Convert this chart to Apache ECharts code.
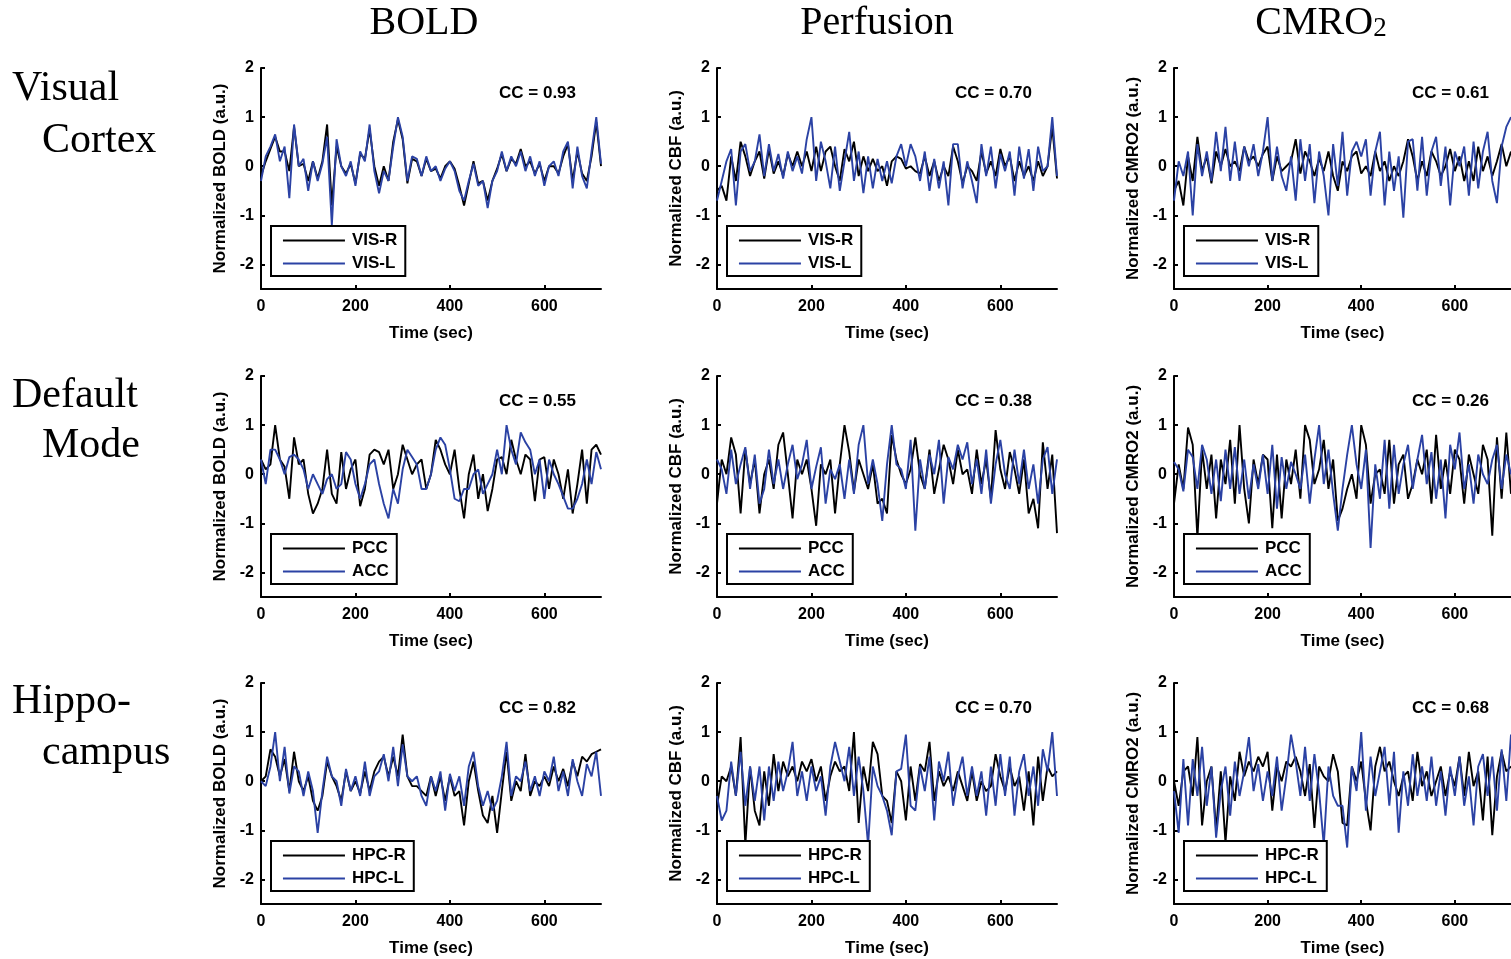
<!DOCTYPE html>
<html>
<head>
<meta charset="utf-8">
<script src="https://cdn.jsdelivr.net/npm/echarts@6/dist/echarts.min.js"></script>
<style>
  html, body { margin: 0; padding: 0; background: #fff; }
  #chart { width: 1511px; height: 959px; }
</style>
</head>
<body>
<div id="chart"></div>
<script>
// ---- labels ----
const columnTitles = ['BOLD', 'Perfusion', 'CMRO2'];
const rowTitles = [['Visual', 'Cortex'], ['Default', 'Mode'], ['Hippo-', 'campus']];
const yAxisNames = ['Normalized BOLD (a.u.)', 'Normalized CBF (a.u.)', 'Normalized CMRO2 (a.u.)'];
const regionPairs = [['VIS-R', 'VIS-L'], ['PCC', 'ACC'], ['HPC-R', 'HPC-L']];
const ccValues = [['0.93', '0.70', '0.61'], ['0.55', '0.38', '0.26'], ['0.82', '0.70', '0.68']];
const yTicks = [-2, -1, 0, 1, 2];
const xTicks = [0, 200, 400, 600];
const sampleStep = 10; // seconds between samples

// ---- time courses (normalized, a.u.), one value every 10 s from 0 to 720 s ----
// Visual cortex
const visBoldR = [-0.2,0.1,0.35,0.6,0.3,0.3,-0.1,0.8,0.0,0.05,-0.3,0.1,-0.25,0.1,0.85,-0.8,0.4,0.0,-0.15,0.05,-0.35,0.25,0.15,0.75,0.0,-0.4,0.0,-0.3,0.5,0.95,0.55,-0.35,0.15,0.1,-0.2,0.15,-0.1,-0.05,-0.25,0.0,0.1,-0.05,-0.4,-0.8,-0.35,0.1,-0.35,-0.3,-0.7,-0.3,-0.05,0.25,-0.1,0.15,0.05,0.35,0.0,0.1,-0.15,0.05,-0.3,0.0,0.0,-0.15,0.2,0.45,-0.3,0.3,-0.15,-0.3,0.2,0.9,0.0];
const visBoldL = [-0.3,0.2,0.4,0.65,0.1,0.4,-0.65,0.85,0.0,0.15,-0.5,0.1,-0.3,0.05,0.6,-1.2,0.55,0.0,-0.2,0.1,-0.4,0.3,0.1,0.85,-0.1,-0.55,-0.1,-0.3,0.4,1.0,0.6,-0.3,0.2,0.15,-0.2,0.2,-0.1,0.0,-0.3,-0.05,0.1,-0.1,-0.5,-0.7,-0.3,0.05,-0.4,-0.3,-0.85,-0.3,-0.1,0.3,-0.1,0.2,0.0,0.3,-0.1,0.2,-0.2,0.1,-0.4,0.0,0.1,-0.2,0.3,0.5,-0.45,0.4,-0.2,-0.45,0.3,1.0,0.05];
const visCbfR = [-0.5,-0.4,-0.7,0.2,-0.3,0.5,0.2,-0.2,0.1,0.3,-0.25,0.35,-0.15,0.1,-0.2,0.25,0.0,0.3,0.0,0.3,-0.1,0.4,-0.1,0.3,0.4,0.0,-0.3,0.35,0.1,0.5,-0.2,0.2,-0.1,0.15,-0.1,0.0,-0.4,0.1,0.2,0.15,-0.05,0.0,-0.1,-0.15,0.2,-0.2,0.1,-0.3,0.0,-0.2,0.4,0.1,-0.35,0.0,-0.1,-0.3,0.3,-0.15,0.1,-0.2,0.35,0.0,0.2,-0.3,0.1,-0.2,0.0,-0.3,0.1,-0.2,0.0,0.8,-0.25];
const visCbfL = [-0.7,-0.3,0.1,0.35,-0.8,0.3,0.45,-0.1,0.1,0.65,-0.2,0.45,-0.1,0.25,-0.25,0.3,-0.1,0.2,-0.15,0.55,1.0,-0.3,0.5,0.1,-0.45,0.4,-0.5,0.1,0.7,-0.3,0.3,-0.55,0.2,-0.45,0.15,-0.3,0.1,-0.35,0.2,0.45,0.0,0.45,0.2,-0.3,0.3,-0.5,0.15,-0.45,0.1,-0.8,0.45,0.45,-0.45,0.1,-0.3,-0.75,0.45,-0.2,0.4,-0.45,0.25,-0.1,0.3,-0.6,0.4,-0.25,0.35,-0.5,0.4,-0.1,0.0,1.0,-0.2];
const visCmroR = [-0.5,-0.3,-0.8,0.2,-0.3,0.6,-0.1,0.2,-0.35,0.3,0.0,0.35,0.0,0.1,-0.1,0.4,0.1,0.2,0.0,0.25,0.4,-0.3,0.2,-0.1,0.0,0.1,0.55,-0.15,0.3,0.1,-0.2,0.15,-0.1,0.3,-0.2,-0.5,0.1,-0.1,0.2,0.3,-0.15,0.0,-0.2,0.3,-0.1,0.1,-0.3,0.0,-0.2,0.1,0.55,0.2,-0.3,0.1,-0.2,0.3,0.1,-0.2,0.0,0.35,-0.1,0.2,-0.3,0.1,-0.3,0.4,-0.1,0.2,-0.2,0.1,0.45,0.0,0.3];
const visCmroL = [-0.7,0.1,-0.2,0.3,-1.0,0.45,-0.2,0.3,-0.3,0.7,-0.1,0.8,-0.3,0.5,-0.3,0.4,0.0,0.45,-0.2,0.3,1.0,-0.3,0.4,-0.2,-0.5,0.2,-0.7,0.55,-0.3,0.45,-0.75,0.3,-0.2,-1.0,0.45,-0.4,0.7,-0.6,0.3,0.5,0.2,0.55,-0.6,0.3,0.7,-0.8,0.3,-0.5,0.2,-1.05,0.5,0.55,-0.5,0.6,-0.6,0.3,0.6,-0.4,0.4,-0.8,0.3,0.0,0.4,-0.6,0.5,-0.45,0.3,0.7,-0.3,-0.75,0.4,0.8,1.0];
// Default mode network
const dmnBoldR = [0.3,0.1,0.2,1.0,0.3,0.15,-0.5,0.75,0.2,0.3,-0.4,-0.8,-0.6,-0.3,0.5,-0.4,-0.6,0.45,-0.3,0.1,0.3,-0.65,-0.3,0.4,0.5,0.45,0.2,0.5,-0.3,0.0,0.6,0.3,0.0,0.2,0.3,-0.3,0.0,0.7,0.5,0.2,0.0,0.5,-0.3,-0.9,0.0,0.4,-0.5,0.0,-0.75,-0.3,0.3,0.35,0.0,0.7,0.3,0.0,0.4,0.3,-0.55,0.3,0.35,-0.3,0.3,0.0,-0.5,0.1,-0.8,-0.2,0.5,-0.6,0.5,0.6,0.4];
const dmnBoldL = [0.3,-0.2,0.5,0.5,0.3,0.0,0.35,0.4,0.3,0.1,-0.3,0.0,-0.2,-0.4,-0.1,0.0,-0.3,-0.2,0.45,0.3,-0.2,-0.5,-0.2,0.2,0.3,-0.2,-0.6,-0.9,-0.3,-0.6,0.1,0.5,0.35,0.2,-0.3,-0.3,0.0,0.5,0.75,0.6,0.1,-0.5,-0.55,-0.3,-0.3,0.0,0.1,-0.4,-0.2,0.0,0.5,0.0,1.0,0.5,0.2,0.85,0.65,0.5,0.0,0.3,-0.5,0.3,0.0,-0.2,-0.45,-0.7,-0.7,-0.5,-0.2,0.3,-0.2,0.45,0.1];
const dmnCbfR = [-0.6,0.3,0.0,0.75,0.4,-0.8,0.5,-0.2,0.3,-0.8,0.0,0.3,-0.3,0.6,0.85,0.0,-0.9,0.3,0.0,0.3,-0.3,-1.05,0.2,0.0,0.3,-0.8,0.2,1.0,0.45,-0.35,0.3,0.0,-0.3,0.2,-0.6,-0.5,-0.8,0.8,0.3,0.0,-0.2,0.1,0.75,0.0,-0.3,0.5,-0.4,0.1,0.6,0.3,-0.2,0.5,0.0,0.1,-0.4,0.5,-0.2,0.3,-0.5,0.9,0.1,-0.3,0.45,0.1,-0.4,0.3,-0.8,-0.5,-1.1,0.65,-0.3,0.4,-1.2];
const dmnCbfL = [0.3,0.1,-0.4,0.5,-0.2,0.2,0.55,-0.3,0.4,-0.6,-0.3,0.5,-0.2,0.3,-0.3,0.2,0.6,-0.1,0.2,0.7,-0.3,0.15,0.55,-0.6,0.1,-0.1,0.2,-0.5,0.3,-0.4,0.6,1.0,-0.2,0.3,-0.2,-0.95,0.2,1.0,0.2,0.1,-0.3,0.7,-1.15,0.3,-0.3,0.4,0.0,0.7,-0.6,0.35,0.1,0.6,0.3,0.65,-0.2,0.3,-0.4,0.5,-0.6,0.2,0.7,0.0,-0.3,0.5,-0.2,0.5,-0.3,0.2,-0.6,0.3,0.55,-0.4,0.3];
const dmnCmroR = [-0.6,0.2,-0.3,0.95,0.6,-1.3,0.5,-0.3,0.4,-0.9,0.3,-0.2,0.7,-0.6,1.0,-0.3,-1.0,0.3,-0.2,0.4,0.3,-1.1,0.4,-0.9,0.3,-0.2,0.5,-0.5,1.0,0.7,-0.2,0.1,0.7,-0.3,0.3,-0.95,-0.7,-0.3,0.0,-0.5,1.0,0.6,-0.6,0.0,0.1,-0.4,0.7,-0.6,0.2,0.4,-0.5,-0.2,0.3,0.0,0.5,-0.6,0.8,-0.3,0.3,-0.4,0.5,0.3,-0.6,0.4,0.0,-0.4,0.6,0.3,-1.25,0.75,-0.5,0.85,-0.4];
const dmnCmroL = [0.25,0.1,-0.35,0.5,0.35,-0.3,0.6,0.3,-0.4,0.3,-0.55,0.5,-0.3,0.55,-0.4,0.3,-0.5,0.2,-0.3,0.4,-0.4,0.6,-0.7,0.35,-0.3,0.25,0.0,-0.3,0.4,-0.6,0.3,1.0,-0.2,0.5,-0.4,-1.15,-0.3,0.4,1.0,0.2,-0.3,0.5,-1.5,0.2,-0.5,0.7,-0.7,0.6,-0.4,0.2,0.6,-0.3,0.3,0.8,-0.2,0.45,-0.5,0.3,-0.9,0.6,0.1,0.85,-0.3,0.2,-0.6,0.4,0.0,-0.2,0.3,0.6,-0.3,0.4,0.0];
// Hippocampus
const hpcBoldR = [0.0,0.1,0.65,0.5,0.1,0.45,-0.2,0.6,0.0,-0.2,0.1,-0.4,-0.6,-0.3,0.4,0.1,-0.1,-0.4,0.2,-0.2,0.0,-0.25,0.2,-0.2,0.2,0.4,0.5,0.1,0.5,0.1,0.95,0.1,-0.1,-0.1,-0.2,-0.3,0.1,-0.3,0.1,-0.4,0.1,-0.3,-0.2,-0.9,0.0,0.4,-0.2,-0.7,-0.85,-0.3,-1.05,-0.2,0.6,-0.4,0.0,-0.2,0.55,-0.3,0.0,-0.1,0.1,-0.1,0.3,0.0,0.25,-0.1,0.4,0.1,0.5,0.4,0.55,0.6,0.65];
const hpcBoldL = [0.0,-0.1,0.3,1.0,0.0,0.7,-0.25,0.3,0.2,-0.3,0.2,-0.2,-1.05,-0.2,0.5,0.1,0.0,-0.5,0.25,-0.2,0.1,-0.3,0.4,-0.3,0.1,0.2,0.55,0.0,0.7,-0.1,0.75,0.1,0.0,0.1,-0.3,-0.5,0.1,-0.2,0.2,-0.6,0.15,-0.2,0.1,-0.5,0.3,0.6,-0.1,-0.5,-0.2,-0.6,-0.4,0.1,0.8,-0.3,0.1,0.0,0.4,-0.2,0.1,-0.3,0.2,0.0,0.5,-0.2,0.2,-0.3,0.45,0.0,-0.3,0.35,0.1,0.6,-0.3];
const hpcCbfR = [-0.5,0.1,0.0,0.3,-0.3,0.9,-1.3,0.3,-0.6,-0.9,0.2,-0.5,0.55,-0.2,0.4,0.1,0.3,0.0,0.4,0.2,0.45,0.0,0.3,-0.4,0.1,0.4,0.2,0.3,-0.2,1.0,-0.85,0.3,-0.2,0.8,0.55,-0.3,-0.4,-0.85,0.2,0.0,-0.8,0.3,-0.4,0.35,0.2,0.8,-0.4,0.2,-0.1,0.1,-0.2,0.2,-0.1,-0.4,0.2,-0.4,0.0,-0.2,-0.1,0.55,0.1,-0.2,0.3,-0.1,0.1,-0.6,0.2,-0.9,0.5,-0.4,0.3,0.1,0.2];
const hpcCbfL = [-0.3,-0.8,-0.6,0.4,-0.3,0.6,-0.5,0.3,-0.4,0.3,-0.8,0.3,-0.4,0.4,-0.2,0.2,0.8,-0.3,0.2,-0.4,0.3,-0.2,0.1,-0.7,0.3,0.8,0.4,0.0,0.7,-0.3,0.5,-0.2,-1.3,0.3,-0.1,-0.3,-0.6,-1.1,0.2,0.25,0.95,-0.5,-0.6,0.3,-0.2,0.5,-0.8,0.4,0.0,0.6,-0.5,0.1,0.5,-0.3,0.3,-0.3,0.2,-0.7,0.3,-0.5,0.55,-0.3,0.5,-0.7,0.2,0.55,-0.3,0.3,-0.5,0.65,0.2,1.0,-0.3];
const hpcCmroR = [0.0,-0.5,0.2,0.3,-0.3,0.9,-0.9,0.0,0.3,-1.0,0.2,-1.25,0.1,-0.4,0.6,0.1,0.4,0.2,0.5,0.3,0.6,-0.6,0.3,0.0,0.4,0.3,0.5,0.2,-0.3,0.35,-0.95,0.3,0.1,0.0,0.55,0.2,-0.85,-0.9,0.3,0.0,0.4,-0.4,-1.0,0.3,0.7,0.2,0.4,0.0,-0.3,0.1,0.2,-0.4,0.6,-0.1,0.2,-0.3,0.0,0.3,-0.3,0.2,-0.1,0.5,-0.3,0.6,-0.1,0.2,-0.8,0.5,-1.1,0.1,0.6,0.2,0.3];
const hpcCmroL = [-0.2,-1.05,0.45,-0.9,0.45,-0.3,0.7,-0.5,0.3,-1.15,-0.2,0.3,-0.7,0.4,-0.3,0.2,0.9,-0.2,0.35,-0.4,0.2,-0.3,0.5,-0.6,0.1,0.95,0.4,-0.3,0.7,-0.4,0.55,-0.2,-1.3,0.3,-0.3,-0.5,-0.5,-1.35,0.3,-0.2,1.0,-0.6,0.5,-0.3,0.2,0.7,-0.5,0.6,-1.05,0.2,-0.5,0.55,-0.3,0.3,-0.4,0.5,-0.5,0.2,-0.7,0.3,-0.3,0.5,-0.5,0.1,-0.9,0.3,0.55,-0.3,0.5,-0.6,0.65,-0.4,0.95];

// panel grid: rows = regions, columns = modalities; [right/posterior, left/anterior]
const panels = [
  [[visBoldR, visBoldL], [visCbfR, visCbfL], [visCmroR, visCmroL]],
  [[dmnBoldR, dmnBoldL], [dmnCbfR, dmnCbfL], [dmnCmroR, dmnCmroL]],
  [[hpcBoldR, hpcBoldL], [hpcCbfR, hpcCbfL], [hpcCmroR, hpcCmroL]]
];

// ---- layout ----
const colLeft = [261, 717, 1174];
const rowTop = [68, 376, 683];
const plotW = 340, plotH = 221;
const colTitleX = [424, 877, 1321];
const sansBold = 'bold 17px "Liberation Sans", Arial, sans-serif';
const serif = '"Liberation Serif", "Times New Roman", serif';
const lineColors = ['#000000', '#2b42a4'];

const toPairs = arr => arr.map((v, i) => [i * sampleStep, v]);

const grids = [], xAxes = [], yAxes = [], series = [], legends = [], graphics = [];
const axisText = { color: '#000', fontFamily: '"Liberation Sans", Arial, sans-serif', fontWeight: 'bold', fontSize: 16 };

for (let r = 0; r < 3; r++) {
  for (let c = 0; c < 3; c++) {
    const idx = grids.length;
    grids.push({ left: colLeft[c], top: rowTop[r], width: plotW, height: plotH, containLabel: false });
    xAxes.push({
      gridIndex: idx, type: 'value', min: 0, max: 720,
      name: 'Time (sec)', nameLocation: 'middle', nameGap: 36,
      nameTextStyle: Object.assign({}, axisText, { fontSize: 17 }),
      axisLine: { onZero: false, lineStyle: { color: '#000', width: 2 } },
      axisTick: { inside: true, length: 4, customValues: xTicks, lineStyle: { color: '#000', width: 2 } },
      axisLabel: Object.assign({ customValues: xTicks, margin: 10 }, axisText),
      splitLine: { show: false }
    });
    yAxes.push({
      gridIndex: idx, type: 'value', min: -2.5, max: 2,
      name: yAxisNames[c], nameLocation: 'middle', nameGap: 32,
      nameTextStyle: Object.assign({}, axisText, { fontSize: 17 }),
      axisLine: { onZero: false, lineStyle: { color: '#000', width: 2 } },
      axisTick: { inside: true, length: 4, customValues: yTicks, lineStyle: { color: '#000', width: 2 } },
      axisLabel: Object.assign({ customValues: yTicks, margin: 7 }, axisText),
      splitLine: { show: false }
    });
    const pair = regionPairs[r];
    panels[r][c].forEach((vals, k) => {
      series.push({
        name: pair[k], type: 'line', xAxisIndex: idx, yAxisIndex: idx,
        data: toPairs(vals), symbol: 'none', showSymbol: false,
        lineStyle: { color: lineColors[k], width: 1.9 }, itemStyle: { color: lineColors[k] },
        emphasis: { disabled: true }, z: 2 + k
      });
    });
    legends.push({
      data: pair, orient: 'vertical', left: colLeft[c] + 10, top: rowTop[r] + 158,
      padding: [6, 8, 4, 11], itemGap: 6, itemWidth: 62, itemHeight: 17,
      borderColor: '#000', borderWidth: 2, backgroundColor: '#fff',
      selectedMode: false, z: 10,
      itemStyle: { opacity: 0 },
      lineStyle: { width: 1.9 },
      textStyle: { color: '#000', fontFamily: '"Liberation Sans", Arial, sans-serif', fontWeight: 'bold', fontSize: 17, padding: [0, 0, 0, 2] }
    });
    graphics.push({
      type: 'text', left: colLeft[c] + 238, top: rowTop[r] + 17, z: 20,
      style: { text: 'CC = ' + ccValues[r][c], font: sansBold, fill: '#000' }
    });
  }
}

// column headings
columnTitles.forEach((t, c) => {
  const isCmro = t === 'CMRO2';
  graphics.push({
    type: 'text', x: colTitleX[c], y: 23, z: 20,
    style: isCmro ? {
      text: '{a|CMRO}{b|2}', align: 'center', verticalAlign: 'middle',
      rich: {
        a: { fontFamily: serif, fontSize: 40, fill: '#000', verticalAlign: 'bottom' },
        b: { fontFamily: serif, fontSize: 27, fill: '#000', verticalAlign: 'bottom', padding: [0, 0, 1, 0] }
      }
    } : { text: t, align: 'center', verticalAlign: 'middle', font: '40px ' + serif, fill: '#000' }
  });
});

// row headings
const rowTitleY = [[89, 141], [396, 446], [702, 753]];
rowTitles.forEach((lines, r) => {
  lines.forEach((t, k) => {
    graphics.push({
      type: 'text', x: k === 0 ? 12 : 42, y: rowTitleY[r][k], z: 20,
      style: { text: t, align: 'left', verticalAlign: 'middle', font: '42px ' + serif, fill: '#000' }
    });
  });
});

const chart = echarts.init(document.getElementById('chart'), null, { renderer: 'canvas' });
chart.setOption({
  animation: false,
  backgroundColor: '#fff',
  grid: grids, xAxis: xAxes, yAxis: yAxes,
  legend: legends, series: series, graphic: graphics
});
</script>
</body>
</html>
